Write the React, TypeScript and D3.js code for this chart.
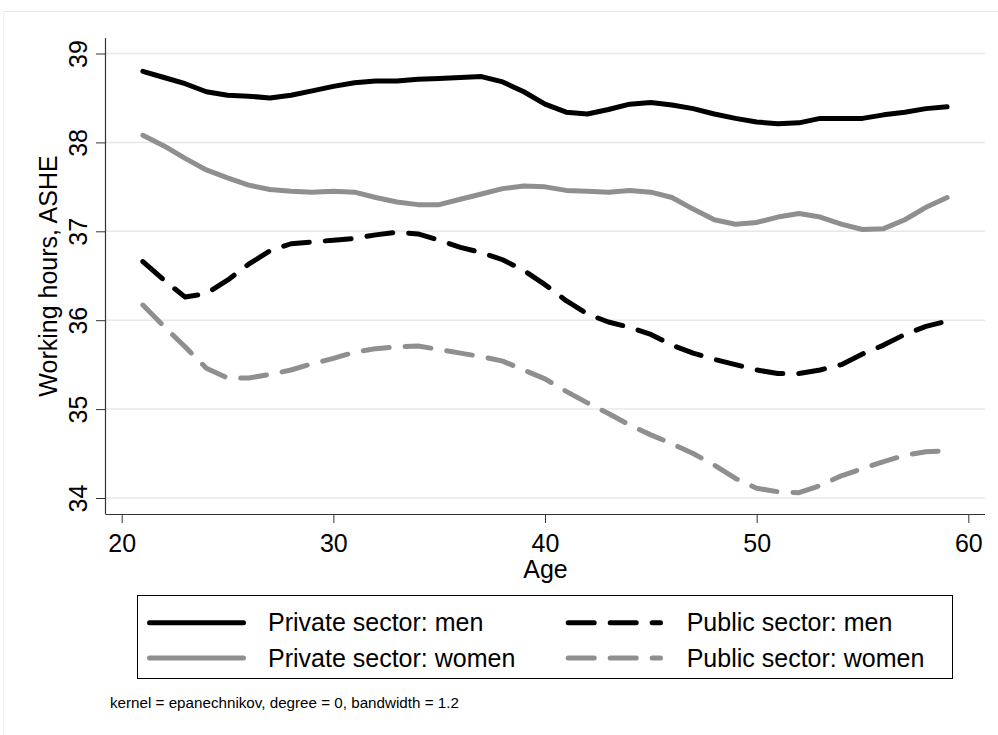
import React, { useEffect, useRef } from "react";
import * as d3 from "d3";

const ages = [21,22,23,24,25,26,27,28,29,30,31,32,33,34,35,36,37,38,39,40,41,42,43,44,45,46,47,48,49,50,51,52,53,54,55,56,57,58,59];
const privateMen = [38.80,38.73,38.66,38.57,38.53,38.52,38.50,38.53,38.58,38.63,38.67,38.69,38.69,38.71,38.72,38.73,38.74,38.68,38.57,38.43,38.34,38.32,38.37,38.43,38.45,38.42,38.38,38.32,38.27,38.23,38.21,38.22,38.27,38.27,38.27,38.31,38.34,38.38,38.40];
const privateWomen = [38.08,37.96,37.82,37.69,37.60,37.52,37.47,37.45,37.44,37.45,37.44,37.38,37.33,37.30,37.30,37.36,37.42,37.48,37.51,37.50,37.46,37.45,37.44,37.46,37.44,37.38,37.25,37.13,37.08,37.10,37.16,37.20,37.16,37.08,37.02,37.03,37.13,37.27,37.38];
const publicMen = [36.66,36.45,36.26,36.30,36.45,36.63,36.78,36.86,36.88,36.90,36.92,36.96,36.99,36.97,36.90,36.82,36.76,36.68,36.56,36.40,36.22,36.07,35.98,35.92,35.84,35.72,35.63,35.56,35.50,35.44,35.40,35.40,35.44,35.50,35.62,35.72,35.84,35.93,35.99];
const publicWomen = [36.17,35.93,35.70,35.46,35.35,35.35,35.39,35.44,35.51,35.57,35.64,35.68,35.70,35.71,35.67,35.63,35.59,35.54,35.44,35.34,35.20,35.07,34.95,34.82,34.71,34.61,34.50,34.37,34.22,34.11,34.07,34.06,34.14,34.25,34.33,34.41,34.48,34.52,34.53];

const xTicks = [20, 30, 40, 50, 60];
const yTicks = [34, 35, 36, 37, 38, 39];
const seriesNames = ["Private sector: men", "Private sector: women", "Public sector: men", "Public sector: women"];
const xTitle = "Age";
const yTitle = "Working hours, ASHE";
const note = "kernel = epanechnikov, degree = 0, bandwidth = 1.2";

const BLACK = "#000000";
const GRAY = "#8f8f8f";
const FONT = "'Liberation Sans', Arial, Helvetica, sans-serif";
const FS = 25;

export default function App() {
  const ref = useRef<SVGSVGElement>(null);

  useEffect(() => {
    const svg = d3.select(ref.current);
    svg.selectAll("*").remove();

    const W = 998, H = 735;
    const x = d3.scaleLinear().domain([20, 60]).range([121.7, 968.3]);
    const y = d3.scaleLinear().domain([34, 39]).range([498, 53.5]);
    const left = 106, right = 985, top = 38, bottom = 514;

    svg.append("rect").attr("x", 0).attr("y", 0).attr("width", W).attr("height", H).attr("fill", "#fff");
    // outer frame (graph region)
    svg.append("line").attr("x1", 3.5).attr("x2", W).attr("y1", 11.5).attr("y2", 11.5).attr("stroke", "#e6e6e6").attr("stroke-width", 1);
    svg.append("line").attr("x1", 3.5).attr("x2", 3.5).attr("y1", 11.5).attr("y2", H).attr("stroke", "#f0f0f0").attr("stroke-width", 1);

    // gridlines
    svg.append("g").selectAll("line").data(yTicks).join("line")
      .attr("x1", left).attr("x2", right)
      .attr("y1", d => y(d)).attr("y2", d => y(d))
      .attr("stroke", "#e8e8e8").attr("stroke-width", 1.5);

    // y axis
    const yAxis = d3.axisLeft(y).tickValues(yTicks).tickSize(10).tickPadding(6).tickFormat(d3.format("d"));
    const gy = svg.append("g").attr("transform", `translate(${left},0)`).call(yAxis);
    gy.select(".domain").attr("d", `M-0.5,${top}V${bottom}`).attr("stroke", "#333").attr("stroke-width", 1.2);
    gy.selectAll(".tick line").attr("stroke", "#333");
    gy.selectAll(".tick text")
      .attr("font-family", FONT).attr("font-size", FS).attr("fill", "#000")
      .attr("x", null).attr("dy", null)
      .attr("transform", "translate(-19,0) rotate(-90)")
      .attr("text-anchor", "middle");

    // x axis
    const xAxis = d3.axisBottom(x).tickValues(xTicks).tickSize(9).tickPadding(11).tickFormat(d3.format("d"));
    const gx = svg.append("g").attr("transform", `translate(0,${bottom})`).call(xAxis);
    gx.select(".domain").attr("d", `M${left - 0.5},0.5H${right}`).attr("stroke", "#333").attr("stroke-width", 1.2);
    gx.selectAll(".tick line").attr("stroke", "#333");
    gx.selectAll(".tick text").attr("font-family", FONT).attr("font-size", FS).attr("fill", "#000");

    // titles
    svg.append("text").attr("x", (left + right) / 2).attr("y", 578)
      .attr("text-anchor", "middle").attr("font-family", FONT).attr("font-size", FS).text(xTitle);
    svg.append("text").attr("transform", `translate(57,${(top + bottom) / 2}) rotate(-90)`)
      .attr("text-anchor", "middle").attr("font-family", FONT).attr("font-size", FS).text(yTitle);

    const series = [
      { name: seriesNames[0], values: privateMen, color: BLACK, dash: null },
      { name: seriesNames[1], values: privateWomen, color: GRAY, dash: null },
      { name: seriesNames[2], values: publicMen, color: BLACK, dash: "26 16" },
      { name: seriesNames[3], values: publicWomen, color: GRAY, dash: "26 16" },
    ];

    const line = d3.line<number>().x((_, i) => x(ages[i])).y(d => y(d)).curve(d3.curveLinear);
    const gl = svg.append("g");
    series.forEach(s => {
      gl.append("path").attr("d", line(s.values) as string)
        .attr("fill", "none").attr("stroke", s.color).attr("stroke-width", 5)
        .attr("stroke-linecap", "round").attr("stroke-linejoin", "round")
        .attr("stroke-dasharray", s.dash);
    });

    // legend
    const lg = svg.append("g");
    lg.append("rect").attr("x", 137.5).attr("y", 595.5).attr("width", 815).attr("height", 83)
      .attr("fill", "#fff").attr("stroke", "#000").attr("stroke-width", 1);
    const rows = [622.7, 658];
    const cols = [{ x1: 147, x2: 246, tx: 268 }, { x1: 565.7, x2: 663, tx: 686.7 }];
    series.forEach((s, i) => {
      const c = cols[Math.floor(i / 2)];
      const r = rows[i % 2];
      lg.append("line").attr("x1", c.x1 + 2.5).attr("x2", c.x2 - 2.5).attr("y1", r).attr("y2", r)
        .attr("stroke", s.color).attr("stroke-width", 5).attr("stroke-linecap", "round")
        .attr("stroke-dasharray", s.dash);
      lg.append("text").attr("x", c.tx).attr("y", r).attr("dy", "0.35em")
        .attr("font-family", FONT).attr("font-size", FS).text(s.name);
    });

    svg.append("text").attr("x", 110).attr("y", 708)
      .attr("font-family", FONT).attr("font-size", 15.2).text(note);
  }, []);

  return (
    <svg ref={ref} width={998} height={735}
      style={{ position: "absolute", left: 0, top: 0, display: "block" }} />
  );
}
